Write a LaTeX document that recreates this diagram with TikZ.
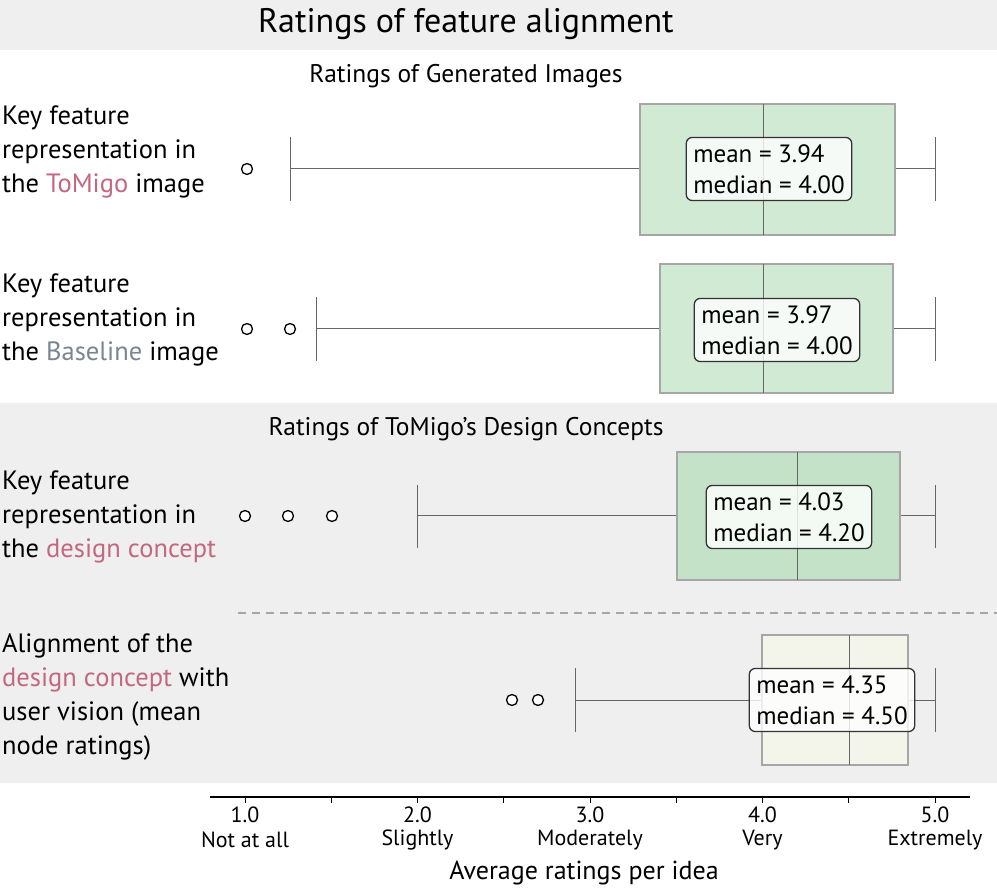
\documentclass[tikz,border=0pt]{standalone}
\usepackage{fontspec}
\setmainfont{PT Sans}
\definecolor{bandgrey}{HTML}{EFEFEF}
\definecolor{boxgreen}{HTML}{D0EAD3}
\definecolor{boxgreenD}{HTML}{C4E2C7}
\definecolor{boxbeige}{HTML}{F4F5EA}
\definecolor{pinkt}{HTML}{C2687F}
\definecolor{greyt}{HTML}{798591}
\definecolor{linegrey}{HTML}{666666}
\begin{document}
\begin{tikzpicture}[x=1pt,y=-1pt,
  box/.style={draw=black!35,line width=1.2pt},
  whisk/.style={draw=linegrey,line width=1pt},
  outl/.style={draw=black,line width=1.3pt,fill=white},
  stat/.style={draw=black!80,line width=1.3pt,rounded corners=6pt,fill=white,fill opacity=0.8,text opacity=1,align=left,font=\fontsize{25}{31}\selectfont,inner sep=7pt},
  lab/.style={anchor=north west,align=left,font=\fontsize{26.5}{34}\selectfont,inner sep=0pt},
  sec/.style={font=\fontsize{25.5}{28}\selectfont},
  tick/.style={font=\fontsize{22}{26}\selectfont}]
\useasboundingbox (0,0) rectangle (997,890);
\fill[bandgrey] (0,0) rectangle (997,50);
\fill[bandgrey] (0,403) rectangle (997,783);
\node[font=\fontsize{34}{38}\selectfont] (title) at (466,24) {Ratings of feature alignment};
\node[sec] (s1) at (466,76) {Ratings of Generated Images};
\node[sec] (s2) at (466,429) {Ratings of ToMigo’s Design Concepts};
\draw[dashed,draw=black!35,line width=1.5pt,dash pattern=on 8pt off 6pt] (238,613) -- (997,613);
% row labels
\node[lab] (l1) at (2,106) {Key feature\\representation in\\the \textcolor{pinkt}{ToMigo} image};
\node[lab] (l2) at (2,274) {Key feature\\representation in\\the \textcolor{greyt}{Baseline} image};
\node[lab] (l3) at (2,471) {Key feature\\representation in\\the \textcolor{pinkt}{design concept}};
\node[lab] (l4) at (2,633) {Alignment of the\\\textcolor{pinkt}{design concept} with\\user vision (mean\\node ratings)};
% row 1
\draw[whisk] (290,137) -- (290,201) (290,169) -- (640,169) (895,169) -- (935,169) (935,137) -- (935,201);
\draw[box,fill=boxgreen] (640,104) rectangle (895,235);
\draw[whisk] (763,104) -- (763,235);
\draw[outl] (247,169) circle (5.5);
\node[stat] (m1) at (769,169) {mean = 3.94\\median = 4.00};
% row 2
\draw[whisk] (316,297) -- (316,361) (316,329) -- (660,329) (893,329) -- (935,329) (935,297) -- (935,361);
\draw[box,fill=boxgreen] (660,264) rectangle (893,393);
\draw[whisk] (763,264) -- (763,393);
\draw[outl] (247,329) circle (5.5);
\draw[outl] (290,329) circle (5.5);
\node[stat] (m2) at (777,330) {mean = 3.97\\median = 4.00};
% row 3
\draw[whisk] (417,485) -- (417,548) (417,516) -- (677,516) (900,516) -- (935,516) (935,485) -- (935,548);
\draw[box,fill=boxgreenD] (677,452) rectangle (900,580);
\draw[whisk] (797,452) -- (797,580);
\draw[outl] (245,516) circle (5.5);
\draw[outl] (288,516) circle (5.5);
\draw[outl] (332,516) circle (5.5);
\node[stat] (m3) at (789,517) {mean = 4.03\\median = 4.20};
% row 4
\draw[whisk] (575,668) -- (575,732) (575,700) -- (762,700) (908,700) -- (935,700) (935,668) -- (935,732);
\draw[box,fill=boxbeige] (762,635) rectangle (908,765);
\draw[whisk] (849,635) -- (849,765);
\draw[outl] (512,700) circle (5.5);
\draw[outl] (538,700) circle (5.5);
\node[stat] (m4) at (832,700) {mean = 4.35\\median = 4.50};
% axis
\draw[black,line width=1.5pt] (210,797) -- (970,797);
\foreach \v in {0,...,8} \draw[black,line width=1pt] ({245+86.25*\v},797) -- ({245+86.25*\v},803);
\foreach \v/\t/\w in {0/1.0/Not at all,1/2.0/Slightly,2/3.0/Moderately,3/4.0/Very,4/5.0/Extremely}{
  \node[tick] (n\v) at ({245+172.5*\v},815) {\t};
  \node[tick] (w\v) at ({245+172.5*\v},840) {\w};
}
\node[font=\fontsize{26}{28}\selectfont] (xl) at (584,873) {Average ratings per idea};
\end{tikzpicture}
\end{document}
